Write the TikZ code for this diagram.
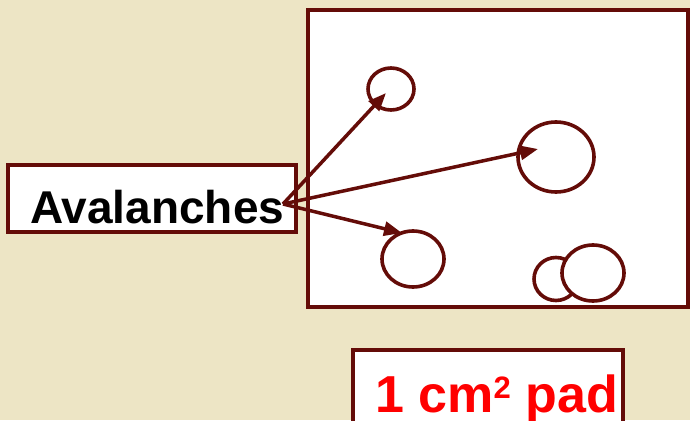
\documentclass[tikz,border=0pt]{standalone}
\usepackage{fontspec}
\setmainfont{Liberation Sans}
\usetikzlibrary{shapes.geometric,arrows.meta}
\definecolor{parch}{RGB}{237,229,197}
\definecolor{maroon}{RGB}{100,12,8}
\definecolor{padred}{RGB}{255,0,0}
\tikzset{
  frame/.style={draw=maroon, line width=3.3pt, fill=white, rectangle, inner sep=0pt},
  blob/.style={draw=maroon, line width=3.6pt, fill=white, ellipse, inner sep=0pt},
  pointer/.style={draw=maroon, line width=3.5pt, -{Triangle[length=18pt,width=14pt]}},
  bigtext/.style={font=\fontsize{46pt}{50pt}\selectfont\bfseries, inner sep=0pt, anchor=base west}
}
\begin{document}
\begin{tikzpicture}[x=1pt,y=-1pt]
\useasboundingbox (0,0) rectangle (690,420);
\fill[parch] (0,0) rectangle (690,420);
% pad area
\node[frame, minimum width=380pt, minimum height=297pt] (pad) at (498,158.5) {};
\node[blob, minimum width=46pt, minimum height=42pt] (c1) at (391,89) {};
\node[blob, minimum width=76pt, minimum height=70pt] (c2) at (556,157) {};
\node[blob, minimum width=62pt, minimum height=56pt] (c3) at (413,259) {};
\node[blob, minimum width=44pt, minimum height=43pt] (c4) at (556,279) {};
\node[blob, minimum width=62pt, minimum height=56pt] (c5) at (593,273) {};
% label boxes
\node[frame, minimum width=288pt, minimum height=67pt] (avbox) at (152,198.5) {};
\node[bigtext] (avtext) at (30,223) {Avalanches};
\node[frame, minimum width=270pt, minimum height=80pt] (padbox) at (488,390) {};
\node[bigtext, font=\fontsize{52pt}{56pt}\selectfont\bfseries, text=padred] (padtext) at (375,412) {1 cm\raisebox{14pt}{\fontsize{31pt}{33pt}\selectfont\bfseries 2} pad};
% arrows
\coordinate (src) at (283,204);
\coordinate (t1) at (386,93);
\coordinate (t2) at (538,149);
\coordinate (t3) at (402,233);
\draw[pointer] (src) -- (t1);
\draw[pointer] (src) -- (t2);
\draw[pointer] (src) -- (t3);
\end{tikzpicture}
\end{document}
